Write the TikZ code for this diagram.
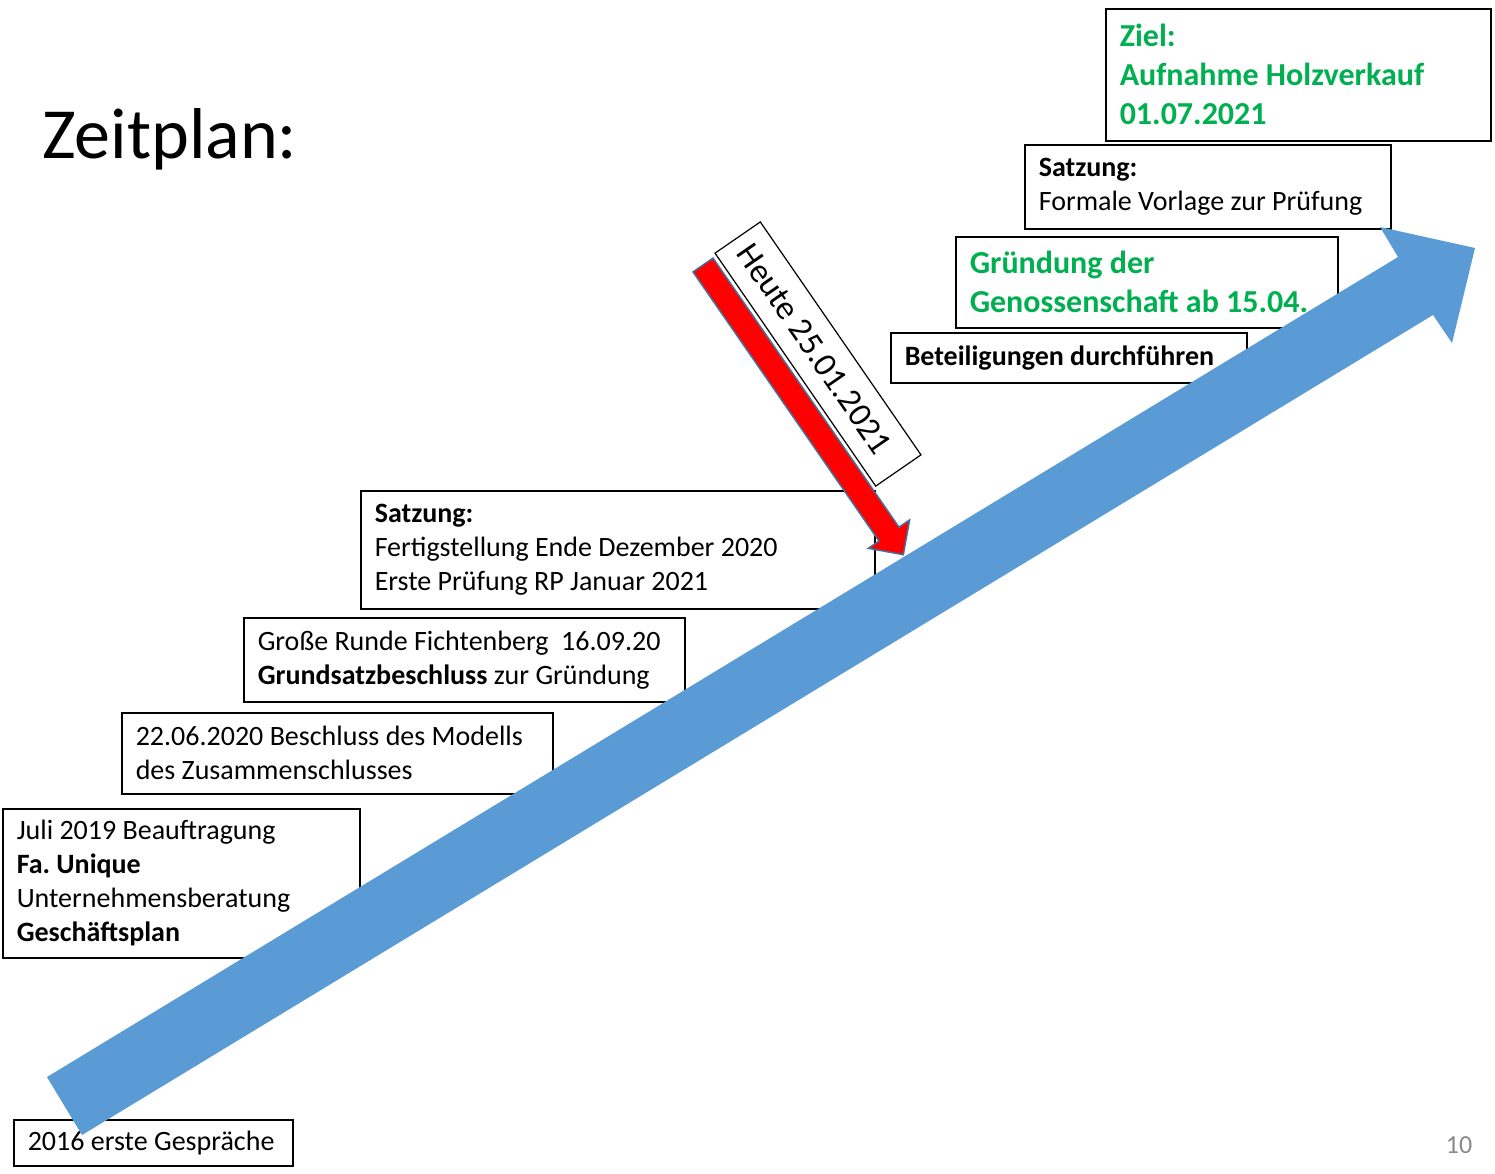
\documentclass[tikz,border=0pt]{standalone}
\usepackage{fontspec}
\setmainfont{Carlito}
\usepackage{xcolor}
\definecolor{zielgruen}{HTML}{00B050}
\definecolor{pfeilblau}{HTML}{5B9BD5}
\definecolor{randblau}{HTML}{41719C}
\definecolor{seitengrau}{HTML}{898989}
\tikzset{
  kasten/.style={draw, fill=white, line width=1.5pt, anchor=north west,
    align=flush left, inner xsep=14pt, inner ysep=0pt,
    font=\fontsize{28}{34}\selectfont\frenchspacing},
  gruen/.style={text=zielgruen, font=\fontsize{32}{39}\selectfont\bfseries\frenchspacing},
}

\begin{document}
\begin{tikzpicture}[x=1pt,y=-1pt]
\useasboundingbox (0,0) rectangle (1495,1173);

\node[anchor=base west, inner sep=0pt, font=\fontsize{72}{86}\selectfont] (titel) at (42,158) {Zeitplan:};

\node[kasten, gruen, text width=357pt, minimum height=132pt] (ziel) at (1105,8)
  {Ziel:\\Aufnahme Holzverkauf\\01.07.2021};
\node[kasten, text width=338pt, minimum height=84pt] (satzungb) at (1024,144)
  {\textbf{Satzung:}\\Formale Vorlage zur Prüfung};
\node[kasten, gruen, text width=354pt, minimum height=91pt] (gruendung) at (955,236)
  {Gründung der\\Genossenschaft ab 15.04.};
\node[kasten, text width=328pt, minimum height=50pt] (beteiligung) at (890,332)
  {\textbf{Beteiligungen durchführen}};
\node[kasten, text width=486pt, minimum height=118pt] (satzunga) at (360,490)
  {\textbf{Satzung:}\\Fertigstellung Ende Dezember 2020\\Erste Prüfung RP Januar 2021};
\node[kasten, text width=413pt, minimum height=84pt] (runde) at (243,617)
  {Große Runde Fichtenberg~~16.09.20\\\textbf{Grundsatzbeschluss} zur Gründung};
\node[kasten, text width=403pt, minimum height=81pt] (modell) at (121,712)
  {22.06.2020 Beschluss des Modells\\des Zusammenschlusses};
\node[kasten, text width=329pt, minimum height=149pt] (unique) at (2,808)
  {Juli 2019 Beauftragung\\\textbf{Fa. Unique}\\Unternehmensberatung\\\textbf{Geschäftsplan}};
\node[kasten, text width=251pt, minimum height=46pt] (start) at (13,1119)
  {2016 erste Gespräche};

\node[draw, fill=white, line width=1.2pt, rotate=-55.4, minimum height=55pt,
  text width=259pt, inner xsep=12pt, inner ysep=0pt, align=flush left,
  font=\fontsize{34}{40}\selectfont] (heute) at (818,354) {Heute 25.01.2021};

\filldraw[fill=red, draw=randblau, line width=1.5pt, line join=miter]
  (713,258.1) -- (899,527.2) -- (909.6,519.9) -- (903.3,554.7)
  -- (868.4,548.3) -- (879,541) -- (693,271.9) -- cycle;

\fill[pfeilblau] (47,1077) -- (1398,257) -- (1380,227) -- (1475,248)
  -- (1452,343) -- (1433,315) -- (82,1135) -- cycle;

\node[text=seitengrau, font=\fontsize{26}{31}\selectfont] (seite) at (1459,1145) {10};
\end{tikzpicture}
\end{document}
